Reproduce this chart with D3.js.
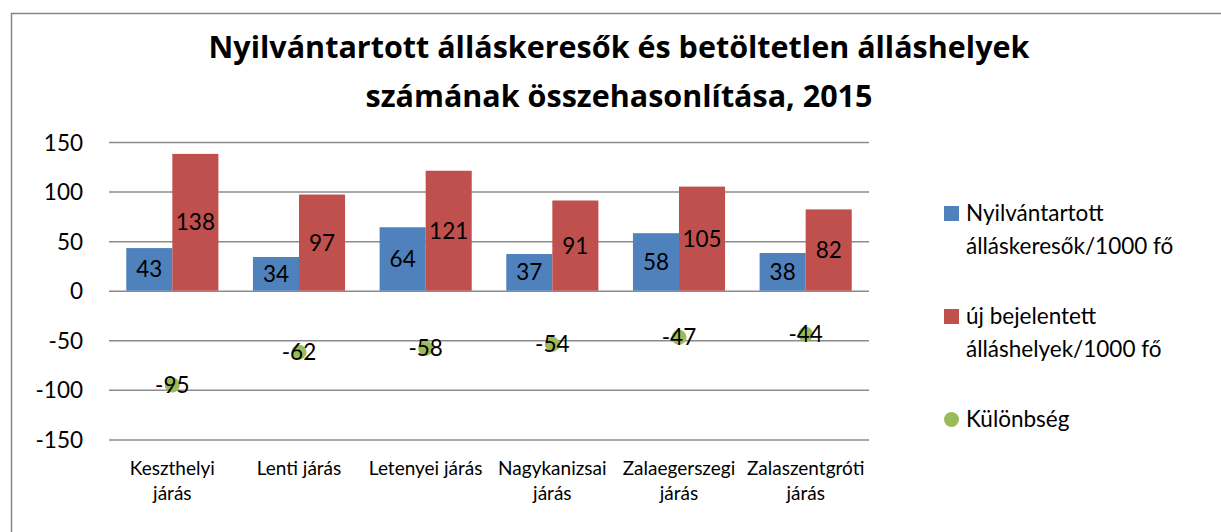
<!DOCTYPE html>
<html>
<head>
<meta charset="utf-8">
<script src="https://cdn.jsdelivr.net/npm/d3@7"></script>
<style>
  html, body { margin: 0; padding: 0; background: #fff; }
  svg { display: block; font-family: Lato, "Open Sans", sans-serif; }
  text { fill: #000; }
</style>
</head>
<body>
<svg id="chart" width="1221" height="532"></svg>
<script>
// Data
const categories = ["Keszthelyi járás", "Lenti járás", "Letenyei járás", "Nagykanizsai járás", "Zalaegerszegi járás", "Zalaszentgróti járás"];
const categoryLines = [["Keszthelyi", "járás"], ["Lenti járás"], ["Letenyei járás"], ["Nagykanizsai", "járás"], ["Zalaegerszegi", "járás"], ["Zalaszentgróti", "járás"]];
const seekers = [43, 34, 64, 37, 58, 38];
const vacancies = [138, 97, 121, 91, 105, 82];
const difference = [-95, -62, -58, -54, -47, -44];
const seriesNames = ["Nyilvántartott álláskeresők/1000 fő", "új bejelentett álláshelyek/1000 fő", "Különbség"];
const yTicks = [-150, -100, -50, 0, 50, 100, 150];
const titleLines = ["Nyilvántartott álláskeresők és betöltetlen álláshelyek", "számának összehasonlítása, 2015"];
const legendLines = [["Nyilvántartott", "álláskeresők/1000 fő"], ["új bejelentett", "álláshelyek/1000 fő"], ["Különbség"]];

const colors = ["#4F81BD", "#C0504D", "#9BBB59"];

const svg = d3.select("#chart");

// Outer chart frame
svg.append("rect")
  .attr("x", 11.5).attr("y", 13.5)
  .attr("width", 1240).attr("height", 560)
  .attr("fill", "#fff").attr("stroke", "#868686").attr("stroke-width", 1.5);

// Title
svg.append("g").selectAll("text")
  .data(titleLines)
  .join("text")
  .attr("x", 619)
  .attr("y", (d, i) => 58 + i * 49)
  .attr("text-anchor", "middle")
  .style("font-family", "'Open Sans', sans-serif")
  .style("font-weight", "bold")
  .style("font-size", "30.5px")
  .text(d => d);

// Scales
const plot = { left: 109, right: 869, top: 142, bottom: 439.4 };
const y = d3.scaleLinear().domain([-150, 150]).range([plot.bottom, plot.top]);
const x0 = d3.scaleBand().domain(categories).range([plot.left, plot.right]).padding(0);
const x1 = d3.scaleBand().domain([0, 1]).range([0, x0.bandwidth()]).paddingInner(0).paddingOuter(0.375);

// Value axis with gridlines
const yAxis = d3.axisLeft(y)
  .tickValues(yTicks)
  .tickFormat(d => String(d))
  .tickSize(-(plot.right - plot.left))
  .tickPadding(26);
const gy = svg.append("g").attr("transform", `translate(${plot.left},0)`).call(yAxis);
gy.select(".domain").remove();
gy.selectAll(".tick line").attr("stroke", "#8c8c8c").attr("stroke-width", 1.5);
gy.selectAll(".tick text")
  .style("font-family", "Lato, sans-serif")
  .style("font-size", "22.5px")
  .attr("fill", "#000")
  .attr("dy", "0.36em");

// Bars
const barData = [];
categories.forEach((c, i) => {
  barData.push({ cat: c, s: 0, v: seekers[i] });
  barData.push({ cat: c, s: 1, v: vacancies[i] });
});

const bars = svg.append("g");
bars.selectAll("rect")
  .data(barData)
  .join("rect")
  .attr("x", d => x0(d.cat) + x1(d.s))
  .attr("width", x1.bandwidth())
  .attr("y", d => y(Math.max(0, d.v)))
  .attr("height", d => Math.abs(y(d.v) - y(0)))
  .attr("fill", d => colors[d.s]);

bars.selectAll("text")
  .data(barData)
  .join("text")
  .attr("x", d => x0(d.cat) + x1(d.s) + x1.bandwidth() / 2)
  .attr("y", d => (y(d.v) + y(0)) / 2)
  .attr("dy", "0.36em")
  .attr("text-anchor", "middle")
  .style("font-size", "22.5px")
  .text(d => d.v);

// Difference markers
const pts = svg.append("g");
pts.selectAll("circle")
  .data(difference)
  .join("circle")
  .attr("cx", (d, i) => x0(categories[i]) + x0.bandwidth() / 2)
  .attr("cy", d => y(d))
  .attr("r", 7.5)
  .attr("fill", colors[2]);

pts.selectAll("text")
  .data(difference)
  .join("text")
  .attr("x", (d, i) => x0(categories[i]) + x0.bandwidth() / 2)
  .attr("y", d => y(d))
  .attr("dy", "0.36em")
  .attr("text-anchor", "middle")
  .style("font-size", "22.5px")
  .text(d => d);

// Category labels
const catG = svg.append("g");
categories.forEach((c, i) => {
  const cx = x0(c) + x0.bandwidth() / 2;
  catG.append("text")
    .attr("text-anchor", "middle")
    .style("font-size", "19px")
    .selectAll("tspan")
    .data(categoryLines[i])
    .join("tspan")
    .attr("x", cx)
    .attr("y", (d, j) => 475 + j * 25)
    .text(d => d);
});

// Legend
const legend = svg.append("g");
const legendY = [206, 309, 412];
legendLines.forEach((lines, i) => {
  const g = legend.append("g");
  if (i < 2) {
    g.append("rect")
      .attr("x", 944).attr("y", legendY[i])
      .attr("width", 15).attr("height", 15)
      .attr("fill", colors[i]);
  } else {
    g.append("circle")
      .attr("cx", 951.5).attr("cy", legendY[i] + 7.5)
      .attr("r", 7.5)
      .attr("fill", colors[i]);
  }
  g.selectAll("text")
    .data(lines)
    .join("text")
    .attr("x", 966)
    .attr("y", (d, j) => legendY[i] + 15 + j * 33)
    .style("font-size", "22.5px")
    .text(d => d);
});
</script>
</body>
</html>
